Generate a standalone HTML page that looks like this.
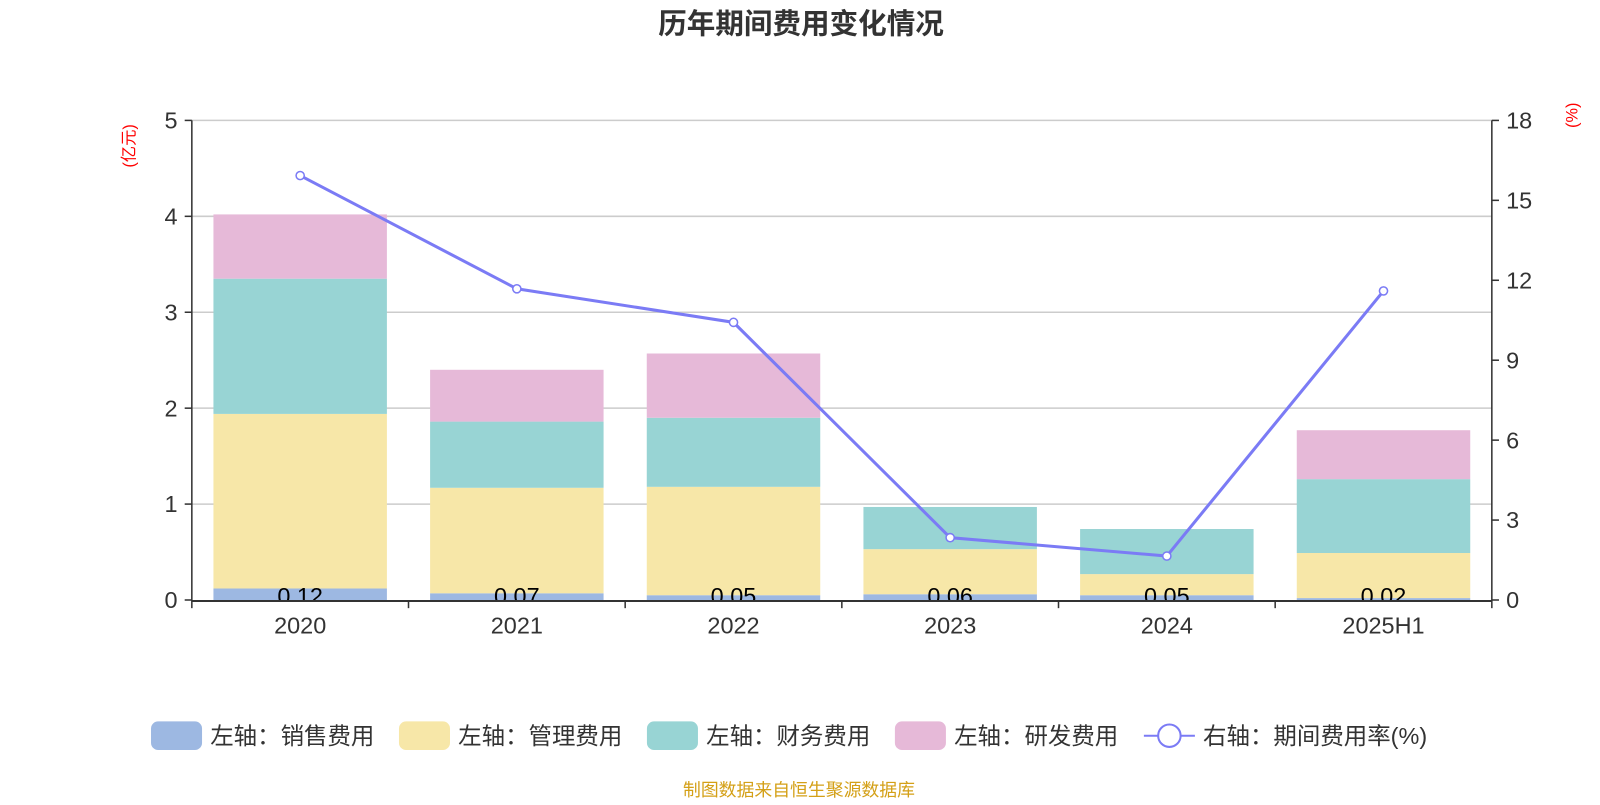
<!DOCTYPE html>
<html><head><meta charset="utf-8"><style>
body{margin:0;background:#fff;width:1600px;height:800px;overflow:hidden;font-family:"Liberation Sans","Noto Sans CJK SC",sans-serif}
</style></head><body>
<svg id="c" width="1600" height="800" viewBox="0 0 1568 784" xmlns="http://www.w3.org/2000/svg" font-family="Liberation Sans, Noto Sans CJK SC, sans-serif">
<text x="785" y="33" text-anchor="middle" font-size="28" font-weight="bold" fill="#333">历年期间费用变化情况</text>
<text transform="translate(132,143) rotate(-90)" text-anchor="middle" font-size="16" fill="#f00">(亿元)</text>
<text transform="translate(1546,113) rotate(-90)" text-anchor="middle" font-size="16" fill="#f00">(%)</text>
<defs><clipPath id="pc"><rect x="188" y="100" width="1274" height="488"/></clipPath></defs>
<g id="grid"></g><g id="bars"></g><g id="labels" clip-path="url(#pc)"></g><g id="axes"></g><g id="line"></g>
<g font-size="23" fill="#333">
<g><rect x="148" y="707" width="50" height="28" rx="7" fill="#9db8e2"/><text x="206" y="729">左轴：销售费用</text></g>
<g><rect x="391" y="707" width="50" height="28" rx="7" fill="#f7e7a8"/><text x="449" y="729">左轴：管理费用</text></g>
<g><rect x="634" y="707" width="50" height="28" rx="7" fill="#98d4d4"/><text x="692" y="729">左轴：财务费用</text></g>
<g><rect x="877" y="707" width="50" height="28" rx="7" fill="#e6b9d8"/><text x="935" y="729">左轴：研发费用</text></g>
<g><line x1="1121" y1="721" x2="1171" y2="721" stroke="#7b7bf5" stroke-width="2"/><circle cx="1146" cy="721" r="11" fill="#fff" stroke="#7b7bf5" stroke-width="2"/><text x="1179" y="729">右轴：期间费用率(%)</text></g>
</g>
<text x="783" y="780" text-anchor="middle" font-size="17.5" fill="#d4a017">制图数据来自恒生聚源数据库</text>
</svg>
<script>
const categories=["2020","2021","2022","2023","2024","2025H1"];
const sales=[0.12,0.07,0.05,0.06,0.05,0.02];
const admin=[1.82,1.10,1.13,0.47,0.22,0.47];
const finance=[1.41,0.69,0.72,0.44,0.47,0.77];
const rd=[0.67,0.54,0.67,0,0,0.51];
const rate=[15.93,11.68,10.42,2.34,1.65,11.6];
const leftTicks=[0,1,2,3,4,5];
const rightTicks=[0,3,6,9,12,15,18];
const NS="http://www.w3.org/2000/svg";
const X0=188,X1=1462,Y0=588,Y1=118;
const bw=(X1-X0)/categories.length;
const yL=v=>Y0-(v/5)*(Y0-Y1);
const yR=v=>Y0-(v/18)*(Y0-Y1);
const xC=i=>X0+bw*(i+0.5);
function mk(t,a,p){const e=document.createElementNS(NS,t);for(const k in a)e.setAttribute(k,a[k]);p.appendChild(e);return e;}
const G=document.getElementById('grid'),B=document.getElementById('bars'),L=document.getElementById('labels'),A=document.getElementById('axes'),LN=document.getElementById('line');
leftTicks.forEach(v=>{if(v>0){const g=mk('line',{x1:X0,x2:X1,y1:yL(v),y2:yL(v),stroke:'#ccc','stroke-width':1.5},G);

}
mk('line',{x1:X0-7,x2:X0,y1:yL(v),y2:yL(v),stroke:'#333','stroke-width':1.5},A);
const t=mk('text',{x:X0-14,y:yL(v)+8,'text-anchor':'end','font-size':23,fill:'#333'},A);t.textContent=v;

});
rightTicks.forEach(v=>{mk('line',{x1:X1,x2:X1+7,y1:yR(v),y2:yR(v),stroke:'#333','stroke-width':1.5},A);
const t=mk('text',{x:X1+14,y:yR(v)+8,'font-size':23,fill:'#333'},A);t.textContent=v;

});
mk('line',{x1:X0,x2:X0,y1:Y1,y2:Y0,stroke:'#333','stroke-width':1.5},A);
mk('line',{x1:X1,x2:X1,y1:Y1,y2:Y0,stroke:'#333','stroke-width':1.5},A);
mk('line',{x1:X0,x2:X1,y1:Y0+1,y2:Y0+1,stroke:'#333','stroke-width':2},A);
for(let i=0;i<=categories.length;i++)mk('line',{x1:X0+bw*i,x2:X0+bw*i,y1:Y0,y2:Y0+8,stroke:'#333','stroke-width':1.5},A);
const series=[[sales,'#9db8e2','sales'],[admin,'#f7e7a8','admin'],[finance,'#98d4d4','finance'],[rd,'#e6b9d8','rd']];
categories.forEach((c,i)=>{
 let base=0;
 series.forEach(([arr,col,nm])=>{const v=arr[i];if(v<=0)return;
  const r=mk('rect',{x:xC(i)-85,y:yL(base+v),width:170,height:yL(base)-yL(base+v),fill:col},B);
  
  
  base+=v;});
 const t=mk('text',{x:xC(i),y:yL(0)+4,'text-anchor':'middle','font-size':23,fill:'#000'},L);t.textContent=sales[i].toFixed(2);
 
 
 const xl=mk('text',{x:xC(i),y:Y0+33,'text-anchor':'middle','font-size':23,fill:'#333'},A);xl.textContent=c;
 
 
});
const pl=mk('polyline',{points:rate.map((v,i)=>xC(i)+','+yR(v)).join(' '),fill:'none',stroke:'#7b7bf5','stroke-width':3},LN);


rate.forEach((v,i)=>{const p=mk('circle',{cx:xC(i),cy:yR(v),r:4,fill:'#fff',stroke:'#7b7bf5','stroke-width':1.5},LN);

});
</script>
</body></html>
